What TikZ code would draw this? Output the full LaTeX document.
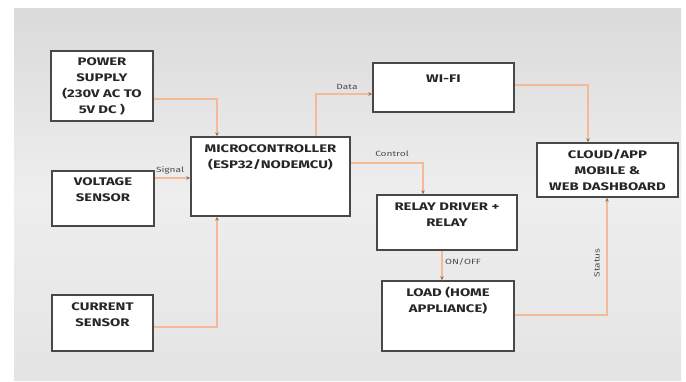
\documentclass[tikz,border=0pt]{standalone}
\usepackage{fontspec}
\setmainfont{Fira Sans}
\newfontfamily\widefont{Fira Sans}[FakeStretch=1.35]
\usetikzlibrary{arrows.meta, positioning, calc}
\definecolor{wire}{RGB}{242,186,152}
\definecolor{tipc}{RGB}{150,112,92}
\definecolor{boxline}{RGB}{72,72,72}
\definecolor{bgtop}{RGB}{218,218,218}
\definecolor{bgmid}{RGB}{238,238,238}
\definecolor{bgbot}{RGB}{228,228,228}

\begin{document}
\begin{tikzpicture}[x=1pt, y=-1pt,
    box/.style={draw=boxline, line width=1.4pt, fill=white, inner sep=0pt},
    txt/.style={font=\widefont\bfseries\fontsize{11}{16}\selectfont, align=center,
                inner sep=1pt, text=black!85},
    lbl/.style={font=\widefont\fontsize{7.5}{8}\selectfont, text=black!70, inner sep=1pt},
    arr/.style={wire, line width=1.3pt, -{Stealth[length=4pt, width=3.5pt, color=tipc]}}
]
    \useasboundingbox (0,0) rectangle (686,381);
    \fill[white] (0,0) rectangle (686,381);
    \shade[top color=bgtop, bottom color=bgbot, middle color=bgmid] (14,8) rectangle (681,380);

    % blocks
    \node[box, minimum width=102pt, minimum height=70pt] (power) at (102,86) {};
    \node[box, minimum width=102pt, minimum height=55pt] (volt) at (103,198.5) {};
    \node[box, minimum width=101pt, minimum height=56pt] (curr) at (102.5,323) {};
    \node[box, minimum width=159pt, minimum height=79pt] (mcu) at (270.5,176.5) {};
    \node[box, minimum width=141pt, minimum height=49pt] (wifi) at (443.5,87.5) {};
    \node[box, minimum width=140pt, minimum height=55pt] (relay) at (447,222.5) {};
    \node[box, minimum width=132pt, minimum height=70pt] (load) at (448,316) {};
    \node[box, minimum width=141pt, minimum height=54pt] (cloud) at (607.5,170) {};

    % block texts
    \node[txt] (powert) at (power.center) {POWER\\SUPPLY\\(230V AC TO\\5V DC )};
    \node[txt, below=6pt of volt.north] (voltt) {VOLTAGE\\SENSOR};
    \node[txt, below=7pt of curr.north] (currt) {CURRENT\\SENSOR};
    \node[txt, below=7pt of mcu.north] (mcut) {MICROCONTROLLER\\(ESP32/NODEMCU)};
    \node[txt, below=11pt of wifi.north] (wifit) {WI-FI};
    \node[txt, below=7pt of relay.north] (relayt) {RELAY DRIVER +\\RELAY};
    \node[txt, below=6pt of load.north] (loadt) {LOAD (HOME\\APPLIANCE)};
    \node[txt] (cloudt) at (cloud.center) {CLOUD/APP\\MOBILE \&\\WEB DASHBOARD};

    % connectors
    \draw[arr] (power.east |- 0,99) -| (mcu.north -| 217,0);
    \draw[arr] (volt.east |- 0,178) -- (mcu.west |- 0,178);
    \draw[arr] (curr.east |- 0,327) -| (mcu.south -| 217,0);
    \draw[arr] (mcu.north -| 316,0) |- (wifi.west |- 0,94);
    \draw[arr] (mcu.east |- 0,163) -| (relay.north -| 423,0);
    \draw[arr] (wifi.east |- 0,85) -| (cloud.north -| 588,0);
    \draw[arr] (relay.south -| 442,0) -- (load.north -| 442,0);
    \draw[arr] (load.east |- 0,315) -| (cloud.south -| 607,0);

    % connector labels
    \node[lbl] (sigl) at (170,170) {Signal};
    \node[lbl] (datal) at (347,87) {Data};
    \node[lbl] (ctrll) at (392,154) {Control};
    \node[lbl] (onoffl) at (463,262) {ON/OFF};
    \node[lbl, rotate=90] (statl) at (597,263) {Status};
\end{tikzpicture}
\end{document}
